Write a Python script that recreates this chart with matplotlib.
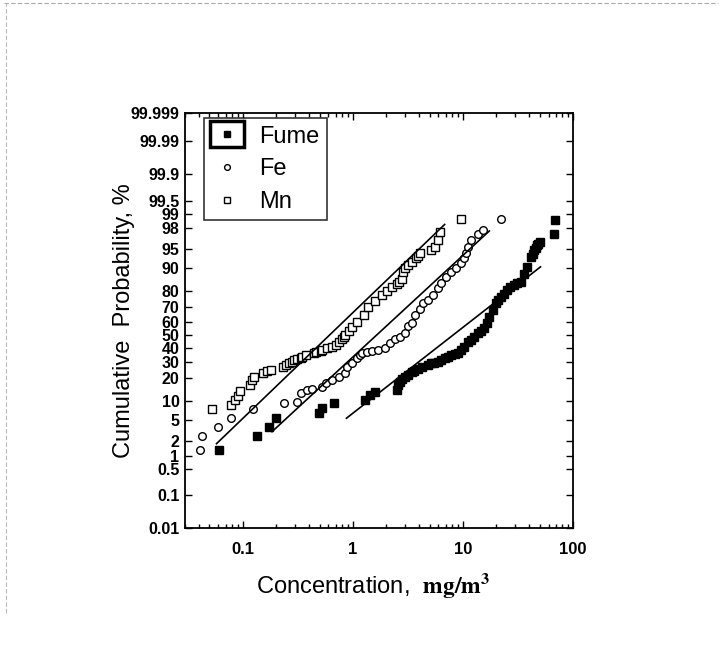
import math
import numpy as np
import matplotlib
matplotlib.use("Agg")
import matplotlib.pyplot as plt
from matplotlib.lines import Line2D
from matplotlib.patches import Rectangle
from matplotlib.ticker import FixedLocator, FixedFormatter, LogLocator, NullFormatter

# ---------------- data (concentration mg/m3, cumulative probability %) ----------------
mn_x = [0.053, 0.078, 0.085, 0.09, 0.095, 0.118, 0.122, 0.126, 0.152, 0.168, 0.18,
        0.231, 0.247, 0.265, 0.284, 0.294, 0.315, 0.337, 0.349, 0.374, 0.445, 0.461,
        0.512, 0.528, 0.586, 0.65, 0.698, 0.746, 0.80, 0.83, 0.86, 0.92, 0.98, 1.09,
        1.26, 1.39, 1.60, 1.83, 2.04, 2.26, 2.5, 2.63, 2.78, 2.88, 2.98, 3.19, 3.47,
        3.75, 3.93, 4.06, 5.18, 5.6, 5.94, 6.2, 9.64]
mn_p = [7.6, 8.8, 10.5, 12, 14, 16.6, 19, 21, 23, 24, 25,
        26.9, 28, 29, 30, 31, 32, 32.8, 33.5, 34.7, 36, 36.8,
        37.6, 38.4, 39.6, 41, 42.2, 44.6, 47, 48.4, 49.7, 53, 55.5, 60,
        65, 70, 74, 77.5, 80, 82.1, 83.5, 84.5, 86, 88.5, 89.9, 90.9, 91.9,
        92.9, 93.5, 94.1, 94.8, 95.5, 96.6, 97.6, 98.7]

fe_x = [0.041, 0.043, 0.060, 0.079, 0.124, 0.238, 0.315, 0.337, 0.387, 0.43, 0.528,
        0.568, 0.65, 0.746, 0.86, 0.89, 0.98, 1.09, 1.17, 1.21, 1.34, 1.49, 1.71,
        1.97, 2.18, 2.42, 2.69, 2.98, 3.2, 3.42, 3.66, 4.06, 4.36, 4.83, 5.36, 5.94,
        6.37, 7.06, 7.84, 8.69, 9.64, 10.3, 10.7, 11.1, 11.9, 13.6, 15.1, 22.1]
fe_p = [1.3, 2.6, 3.8, 5.4, 7.6, 9.3, 9.9, 13, 14.3, 14.8, 15.8,
        17.4, 19, 21, 22.8, 26.9, 29, 32.4, 35, 36, 37, 37.8, 38.2,
        39.6, 43.4, 46.5, 48.4, 51, 57, 59, 64.5, 69, 72.6, 74.7, 77.7, 81.3,
        83.8, 86.7, 88.7, 89.9, 91.5, 92.9, 94.1, 95.5, 96.6, 97.4, 97.8, 98.7]

fume_x = [0.061, 0.134, 0.175, 0.20, 0.493, 0.528, 0.673, 1.30, 1.44, 1.60, 2.5,
          2.6, 2.7, 2.8, 2.98, 3.19, 3.42, 3.6, 3.93, 4.3, 4.83, 5.18, 5.5, 5.94,
          6.3, 6.83, 7.3, 7.84, 8.4, 9.0, 9.64, 10.3, 11.1, 11.9, 12.6, 13.6, 14.5,
          15.7, 16.5, 17.4, 18.6, 19.9, 21, 22.1, 23.5, 25.4, 27, 29.2, 31, 33.5,
          35.9, 38.5, 41.2, 43, 44.2, 46, 47.3, 48.5, 50.1, 66.9, 69]
fume_p = [1.3, 2.6, 3.8, 5.4, 6.5, 7.8, 9.3, 10.4, 12.3, 13.6, 14.5,
          16.6, 18, 19.5, 21, 22, 23.8, 24.5, 25.5, 26.5, 27.9, 29, 29.5, 30.2,
          31, 32.4, 33.5, 34.7, 35.5, 36, 38.4, 41, 44.6, 46, 48, 51, 53,
          55, 59, 63.5, 68.2, 72.6, 74.5, 76.7, 78.5, 80.5, 82, 83, 84, 84.5,
          88, 90.4, 93.3, 94, 94.8, 95.3, 95.8, 96, 96.3, 97.4, 98.6]

# fitted lognormal lines (end points)
mn_fit_x, mn_fit_p = [0.058, 6.83], [1.8, 98.3]
fe_fit_x, fe_fit_p = [0.185, 17.4], [3.1, 97.7]
fume_fit_x, fume_fit_p = [0.877, 50.7], [5.4, 90.4]

y_ticks = [0.01, 0.1, 0.5, 1, 2, 5, 10, 20, 30, 40, 50, 60, 70, 80, 90, 95, 98, 99,
           99.5, 99.9, 99.99, 99.999]
y_tick_labels = ["0.01", "0.1", "0.5", "1", "2", "5", "10", "20", "30", "40", "50",
                 "60", "70", "80", "90", "95", "98", "99", "99.5", "99.9", "99.99",
                 "99.999"]
x_ticks = [0.1, 1, 10, 100]
x_tick_labels = ["0.1", "1", "10", "100"]


# ---------------- probability (probit) scale ----------------
_a = [-3.969683028665376e+01, 2.209460984245205e+02, -2.759285104469687e+02,
      1.383577518672690e+02, -3.066479806614716e+01, 2.506628277459239e+00]
_b = [-5.447609879822406e+01, 1.615858368580409e+02, -1.556989798598866e+02,
      6.680131188771972e+01, -1.328068155288572e+01]
_c = [-7.784894002430293e-03, -3.223964580411365e-01, -2.400758277161838e+00,
      -2.549732539343734e+00, 4.374664141464968e+00, 2.938163982698783e+00]
_d = [7.784695709041462e-03, 3.224671290700398e-01, 2.445134137142996e+00,
      3.754408661907416e+00]


def _ppf1(p):
    p = min(max(p, 1e-12), 1 - 1e-12)
    plow = 0.02425
    if p < plow:
        q = math.sqrt(-2 * math.log(p))
        return (((((_c[0]*q+_c[1])*q+_c[2])*q+_c[3])*q+_c[4])*q+_c[5]) / \
               ((((_d[0]*q+_d[1])*q+_d[2])*q+_d[3])*q+1)
    if p > 1 - plow:
        q = math.sqrt(-2 * math.log(1 - p))
        return -(((((_c[0]*q+_c[1])*q+_c[2])*q+_c[3])*q+_c[4])*q+_c[5]) / \
                ((((_d[0]*q+_d[1])*q+_d[2])*q+_d[3])*q+1)
    q = p - 0.5
    r = q * q
    return (((((_a[0]*r+_a[1])*r+_a[2])*r+_a[3])*r+_a[4])*r+_a[5])*q / \
           (((((_b[0]*r+_b[1])*r+_b[2])*r+_b[3])*r+_b[4])*r+1)


def forward(pct):
    pct = np.asarray(pct, dtype=float)
    return np.vectorize(_ppf1, otypes=[float])(pct / 100.0)


def inverse(z):
    z = np.asarray(z, dtype=float)
    return np.vectorize(lambda v: 50.0 * (1 + math.erf(v / math.sqrt(2))),
                        otypes=[float])(z)


# ---------------- figure ----------------
plt.rcParams['mathtext.fontset'] = 'stix'
fig = plt.figure(figsize=(7.22, 6.45), dpi=100)
ax = fig.add_axes([0.2562, 0.1814, 0.5374, 0.6434])

ax.set_xscale('log')
ax.set_yscale('function', functions=(forward, inverse))

ms = 5.5
ax.plot(fume_x, fume_p, ls='none', marker='s', ms=ms, mfc='black', mec='black',
        mew=1.0, label='Fume')
ax.plot(fe_x, fe_p, ls='none', marker='o', ms=ms, mfc='white', mec='black',
        mew=1.0, label='Fe')
ax.plot(mn_x, mn_p, ls='none', marker='s', ms=ms, mfc='white', mec='black',
        mew=1.0, label='Mn')

for fx, fp in [(mn_fit_x, mn_fit_p), (fe_fit_x, fe_fit_p), (fume_fit_x, fume_fit_p)]:
    ax.plot(fx, fp, color='black', lw=1.2)

ax.set_xlim(0.03, 100)
ax.set_ylim(0.01, 99.999)

ax.yaxis.set_major_locator(FixedLocator(y_ticks))
ax.yaxis.set_major_formatter(FixedFormatter(y_tick_labels))
ax.yaxis.set_minor_locator(FixedLocator([]))
ax.xaxis.set_major_locator(FixedLocator(x_ticks))
ax.xaxis.set_major_formatter(FixedFormatter(x_tick_labels))
ax.xaxis.set_minor_locator(LogLocator(base=10, subs=np.arange(2, 10)))
ax.xaxis.set_minor_formatter(NullFormatter())

ax.tick_params(which='both', direction='in', top=True, right=True, width=1.0,
               color='black')
ax.tick_params(which='major', length=5)
ax.tick_params(which='minor', length=3)
ax.tick_params(axis='y', pad=4)
ax.tick_params(axis='x', pad=10)
for lab in ax.get_yticklabels():
    lab.set_fontfamily('Liberation Sans')
    lab.set_fontweight('bold')
    lab.set_fontsize(11.5)
for lab in ax.get_xticklabels():
    lab.set_fontfamily('Liberation Sans')
    lab.set_fontweight('bold')
    lab.set_fontsize(12)

for sp in ax.spines.values():
    sp.set_linewidth(1.3)
    sp.set_color('black')

ax.set_ylabel('Cumulative  Probability, %', fontfamily='Liberation Sans',
              fontsize=17)
ax.set_xlabel(r'Concentration,  $\mathbf{mg/m^3}$', fontfamily='Liberation Sans',
              fontsize=17)
ax.yaxis.set_label_coords(-0.128, 0.5)
ax.xaxis.set_label_coords(0.485, -0.103)

leg = ax.legend(loc='upper left', bbox_to_anchor=(0.05, 0.988), frameon=True,
                fancybox=False, edgecolor='black', borderpad=0.32,
                handletextpad=0.75, labelspacing=0.45, handlelength=1.25,
                markerscale=0.75, borderaxespad=0.0,
                prop={'family': 'Liberation Sans', 'size': 17})
leg.get_frame().set_linewidth(1.2)

# highlight box around the first legend marker (as in the original)
fig.canvas.draw()
renderer = fig.canvas.get_renderer()
h0 = leg.legend_handles[0]
bb = h0.get_window_extent(renderer)
cx, cy = (bb.x0 + bb.x1) / 2, (bb.y0 + bb.y1) / 2
w_px, h_px = 34, 26
inv = fig.transFigure.inverted()
(fx0, fy0) = inv.transform((cx - w_px / 2, cy - h_px / 2))
(fx1, fy1) = inv.transform((cx + w_px / 2, cy + h_px / 2))
fig.add_artist(Rectangle((fx0, fy0), fx1 - fx0, fy1 - fy0, transform=fig.transFigure,
                         fill=False, edgecolor='black', lw=2.5))

# faint scan border of the page
fig.add_artist(Line2D([0.005, 0.995], [0.996, 0.996], transform=fig.transFigure,
                      color='#aaaaaa', lw=0.8, ls=(0, (4, 2))))
fig.add_artist(Line2D([0.009, 0.009], [0.05, 0.996], transform=fig.transFigure,
                      color='#bbbbbb', lw=0.8, ls=(0, (4, 2))))

fig.savefig('out.png', dpi=100, facecolor='white')
